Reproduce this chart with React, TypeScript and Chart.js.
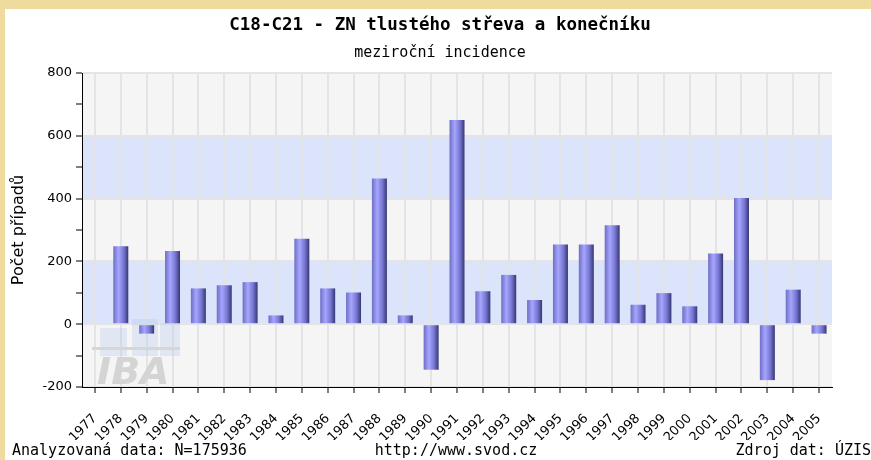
import React, { useEffect, useRef } from "react";
import { Chart, registerables } from "chart.js";

Chart.register(...registerables);

const years: string[] = [
  "1977", "1978", "1979", "1980", "1981", "1982", "1983", "1984", "1985", "1986",
  "1987", "1988", "1989", "1990", "1991", "1992", "1993", "1994", "1995", "1996",
  "1997", "1998", "1999", "2000", "2001", "2002", "2003", "2004", "2005",
];

const yearlyChange: (number | null)[] = [
  null, 248, -30, 233, 114, 124, 134, 28, 272, 114,
  101, 464, 28, -145, 650, 105, 157, 77, 254, 254,
  315, 62, 99, 57, 225, 402, -178, 110, -30,
];

const yMin = -200;
const yMax = 800;
const yStep = 100;
const yLabelStep = 200;

const titleText = "C18-C21 - ZN tlustého střeva a konečníku";
const subtitleText = "meziroční incidence";
const yAxisTitle = "Počet případů";
const footerLeft = "Analyzovaná data: N=175936";
const footerCenter = "http://www.svod.cz";
const footerRight = "Zdroj dat: ÚZIS";
const watermarkText = "IBA";

const BAR_FRAC = 0.58;

const bandsPlugin = {
  id: "bands",
  beforeDraw(chart: any) {
    const { ctx, chartArea } = chart;
    if (!chartArea) return;
    const y = chart.scales.y;
    ctx.save();
    for (let v = yMin; v < yMax; v += yLabelStep) {
      const top = y.getPixelForValue(v + yLabelStep);
      const bottom = y.getPixelForValue(v);
      const idx = Math.round((v - yMin) / yLabelStep);
      ctx.fillStyle = idx % 2 === 1 ? "#dce4fc" : "#f5f5f5";
      ctx.fillRect(chartArea.left, top, chartArea.right - chartArea.left, bottom - top);
    }
    ctx.restore();
  },
};

const watermarkPlugin = {
  id: "watermark",
  beforeDatasetsDraw(chart: any) {
    const { ctx, chartArea } = chart;
    if (!chartArea) return;
    const l = chartArea.left;
    const b = chartArea.bottom;
    ctx.save();
    ctx.fillStyle = "rgba(175,200,235,0.3)";
    ctx.fillRect(l + 18, b - 59, 27, 28);
    ctx.fillRect(l + 50, b - 68, 26, 37);
    ctx.fillRect(l + 78, b - 64, 20, 33);
    ctx.fillStyle = "#d6d6d6";
    ctx.fillRect(l + 10, b - 40, 88, 3);
    ctx.font = "italic bold 38px 'DejaVu Sans'";
    ctx.fillStyle = "#d4d4d4";
    ctx.textAlign = "left";
    ctx.textBaseline = "alphabetic";
    ctx.fillText(watermarkText, l + 15, b - 3);
    ctx.restore();
  },
};

const footerPlugin = {
  id: "footer",
  afterDraw(chart: any) {
    const { ctx, width, height } = chart;
    ctx.save();
    ctx.font = "15px 'DejaVu Sans Mono'";
    ctx.fillStyle = "#000";
    ctx.textBaseline = "middle";
    const y = height - 9;
    ctx.textAlign = "left";
    ctx.fillText(footerLeft, 7, y);
    ctx.textAlign = "center";
    ctx.fillText(footerCenter, 451, y);
    ctx.textAlign = "right";
    ctx.fillText(footerRight, width, y);
    ctx.restore();
  },
};

export default function App() {
  const canvasRef = useRef<HTMLCanvasElement | null>(null);

  useEffect(() => {
    if (!canvasRef.current) return;
    const chart = new Chart(canvasRef.current, {
      type: "bar",
      data: {
        labels: years,
        datasets: [
          {
            data: yearlyChange,
            xAxisID: "x",
            yAxisID: "y",
            barPercentage: BAR_FRAC,
            categoryPercentage: 1,
            borderWidth: 0,
            backgroundColor: (c: any) => {
              const ch = c.chart;
              if (!ch.chartArea || c.type !== "data") return "#9090f0";
              const xs = ch.scales.x;
              const cx = xs.getPixelForValue(c.dataIndex);
              const w = (xs.width / years.length) * BAR_FRAC;
              const g = ch.ctx.createLinearGradient(cx - w / 2, 0, cx + w / 2, 0);
              g.addColorStop(0, "#6e6ec4");
              g.addColorStop(0.35, "#a6a6ff");
              g.addColorStop(0.7, "#7676d2");
              g.addColorStop(1, "#363672");
              return g;
            },
          },
        ],
      },
      options: {
        responsive: false,
        animation: false,
        layout: { padding: { left: 4, right: 0, top: 0, bottom: 20 } },
        plugins: {
          legend: { display: false },
          tooltip: { enabled: false },
          title: {
            display: true,
            text: titleText,
            color: "#000",
            font: { family: "'DejaVu Sans Mono'", size: 17.5, weight: "bold" },
            padding: { top: 6, bottom: 8 },
          },
          subtitle: {
            display: true,
            text: subtitleText,
            color: "#000",
            font: { family: "'DejaVu Sans Mono'", size: 15, weight: "normal" },
            padding: { top: 0, bottom: 11 },
          },
        },
        scales: {
          x: {
            type: "category",
            offset: true,
            position: "bottom",
            weight: 1,
            grid: { display: false, drawTicks: false },
            border: { display: false },
            ticks: {
              autoSkip: false,
              minRotation: 45,
              maxRotation: 45,
              padding: 18,
              color: "#000",
              font: { family: "'DejaVu Sans'", size: 13 },
            },
            afterFit: (s: any) => {
              s.height = 47;
            },
          },
          xg: {
            type: "category",
            labels: [...years, ""],
            offset: false,
            position: "bottom",
            weight: 0,
            grid: {
              color: "#e4e4e4",
              lineWidth: 2,
              tickColor: "#000",
              tickWidth: 1,
              tickLength: 6,
              drawTicks: true,
            },
            border: { color: "#000", width: 1 },
            ticks: { display: false, autoSkip: false },
            afterFit: (s: any) => {
              s.height = 6;
            },
          },
          y: {
            min: yMin,
            max: yMax,
            ticks: {
              stepSize: yStep,
              autoSkip: false,
              padding: 4,
              color: "#000",
              font: { family: "'DejaVu Sans'", size: 13 },
              callback: (v: any) => (Number(v) % yLabelStep === 0 ? String(v) : ""),
            },
            grid: {
              color: (c: any) =>
                c.tick && Number(c.tick.value) % yLabelStep === 0 ? "#e4e4e4" : "rgba(0,0,0,0)",
              lineWidth: 2,
              tickColor: "#000",
              tickWidth: 1,
              tickLength: 6,
            },
            border: { color: "#000", width: 1 },
            title: {
              display: true,
              text: yAxisTitle,
              color: "#000",
              font: { family: "'DejaVu Sans'", size: 16 },
              padding: { top: 0, bottom: 0 },
            },
            afterFit: (s: any) => {
              s.width = 73;
            },
          },
          yr: {
            type: "linear",
            position: "right",
            display: true,
            grid: { display: false, drawTicks: false },
            border: { display: false },
            ticks: { display: false },
            afterFit: (s: any) => {
              s.width = 39;
            },
          },
        },
      } as any,
      plugins: [bandsPlugin, watermarkPlugin, footerPlugin],
    });
    return () => chart.destroy();
  }, []);

  return (
    <div
      style={{
        position: "fixed",
        left: 0,
        top: 0,
        width: 871,
        height: 460,
        background: "#efdb9e",
        overflow: "hidden",
      }}
    >
      <div
        style={{
          position: "absolute",
          left: 5,
          top: 9,
          width: 866,
          height: 451,
          background: "#ffffff",
        }}
      >
        <canvas ref={canvasRef} width={866} height={451} style={{ width: 866, height: 451, display: "block" }} />
      </div>
    </div>
  );
}
